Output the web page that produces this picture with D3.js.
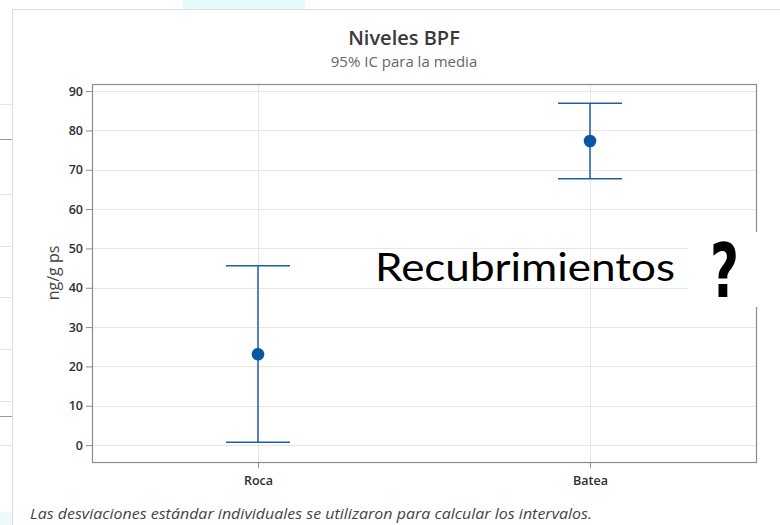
<!DOCTYPE html>
<html>
<head>
<meta charset="utf-8">
<script src="https://cdn.jsdelivr.net/npm/d3@7"></script>
<style>
  body { margin: 0; background: #fff; }
  svg { display: block; }
</style>
</head>
<body>
<div class="chart"></div>
<script>
// interval plot, 95% CI for the mean
const categories = ["Roca", "Batea"];
const means = [23.1, 77.3];
const lower = [0.7, 67.7];
const upper = [45.6, 86.9];
const yTicks = [0, 10, 20, 30, 40, 50, 60, 70, 80, 90];

const W = 780, H = 525;
const plot = { left: 92, right: 756, top: 84, bottom: 462 };

const svg = d3.select(".chart").append("svg")
    .attr("width", W)
    .attr("height", H);

// bits of the slide around the pasted graph
svg.append("rect").attr("x", 183).attr("y", 0).attr("width", 122).attr("height", 9).attr("fill", "#e4fbfb");
svg.append("rect").attr("x", 0).attr("y", 512).attr("width", 12).attr("height", 13).attr("fill", "#eefafa");
[[104, "#e3e3e3"], [139, "#9a9a9a"], [194, "#e3e3e3"], [246, "#e3e3e3"], [297, "#e3e3e3"],
 [349, "#e3e3e3"], [401, "#e3e3e3"], [416, "#9a9a9a"], [445, "#e3e3e3"]].forEach(d => {
    svg.append("line")
        .attr("x1", 0).attr("x2", 12)
        .attr("y1", d[0] + 0.5).attr("y2", d[0] + 0.5)
        .attr("stroke", d[1]);
});
svg.append("line").attr("x1", 12).attr("x2", W).attr("y1", 9.5).attr("y2", 9.5).attr("stroke", "#dcdcdc");
svg.append("line").attr("x1", 12.5).attr("x2", 12.5).attr("y1", 9).attr("y2", H).attr("stroke", "#dcdcdc");

// scales
const x = d3.scalePoint()
    .domain(categories)
    .range([plot.left, plot.right])
    .padding(0.5);
const y = d3.scaleLinear()
    .domain([-4.3, 91.8])
    .range([plot.bottom, plot.top]);

// gridlines
svg.append("g").selectAll("line")
    .data(yTicks)
    .enter().append("line")
    .attr("x1", plot.left).attr("x2", plot.right)
    .attr("y1", d => Math.round(y(d)) + 0.5)
    .attr("y2", d => Math.round(y(d)) + 0.5)
    .attr("stroke", "#e6e6e6");
svg.append("g").selectAll("line")
    .data(categories)
    .enter().append("line")
    .attr("x1", d => Math.round(x(d)) + 0.5)
    .attr("x2", d => Math.round(x(d)) + 0.5)
    .attr("y1", plot.top).attr("y2", plot.bottom)
    .attr("stroke", "#e6e6e6");

// frame
svg.append("rect")
    .attr("x", plot.left + 0.5).attr("y", plot.top + 0.5)
    .attr("width", plot.right - plot.left).attr("height", plot.bottom - plot.top)
    .attr("fill", "none")
    .attr("stroke", "#8c8c8c")
    .attr("stroke-width", 1.2);

// axes
const yAxis = svg.append("g")
    .attr("transform", "translate(" + plot.left + ",0)")
    .call(d3.axisLeft(y).tickValues(yTicks).tickSize(6).tickPadding(3));
const xAxis = svg.append("g")
    .attr("transform", "translate(0," + plot.bottom + ")")
    .call(d3.axisBottom(x).tickSize(6).tickPadding(8));
[yAxis, xAxis].forEach(a => {
    a.select(".domain").remove();
    a.selectAll(".tick line").attr("stroke", "#8c8c8c");
    a.selectAll(".tick text")
        .attr("fill", "#2e2e2e")
        .style("font-family", "'Open Sans', sans-serif")
        .style("font-size", "12.5px")
        .style("font-weight", "600");
});

// intervals
const data = categories.map((c, i) => ({ cat: c, mean: means[i], lo: lower[i], hi: upper[i] }));
const blue = "#1f5ea8";
const capHalf = 32;
const g = svg.append("g");
g.selectAll(".stem")
    .data(data)
    .enter().append("line")
    .attr("class", "stem")
    .attr("x1", d => x(d.cat)).attr("x2", d => x(d.cat))
    .attr("y1", d => y(d.lo)).attr("y2", d => y(d.hi))
    .attr("stroke", blue).attr("stroke-width", 1.5);
["lo", "hi"].forEach(k => {
    g.selectAll(".cap-" + k)
        .data(data)
        .enter().append("line")
        .attr("class", "cap-" + k)
        .attr("x1", d => x(d.cat) - capHalf).attr("x2", d => x(d.cat) + capHalf)
        .attr("y1", d => y(d[k])).attr("y2", d => y(d[k]))
        .attr("stroke", blue).attr("stroke-width", 1.5);
});
g.selectAll(".mean")
    .data(data)
    .enter().append("circle")
    .attr("class", "mean")
    .attr("cx", d => x(d.cat))
    .attr("cy", d => y(d.mean))
    .attr("r", 6.3)
    .attr("fill", "#0a55a6");

// titles
svg.append("text")
    .attr("x", 404).attr("y", 45)
    .style("text-anchor", "middle")
    .style("font-family", "'Open Sans', sans-serif")
    .style("font-size", "20px")
    .style("font-weight", "600")
    .attr("fill", "#3a3a3a")
    .text("Niveles BPF");
svg.append("text")
    .attr("x", 404).attr("y", 67)
    .style("text-anchor", "middle")
    .style("font-family", "'Open Sans', sans-serif")
    .style("font-size", "15px")
    .attr("fill", "#666")
    .text("95% IC para la media");
svg.append("text")
    .attr("transform", "translate(59,273) rotate(-90)")
    .style("text-anchor", "middle")
    .style("font-family", "'Open Sans', sans-serif")
    .style("font-size", "16px")
    .attr("fill", "#444")
    .text("ng/g ps");
svg.append("text")
    .attr("x", 30).attr("y", 519)
    .attr("textLength", 562)
    .attr("lengthAdjust", "spacingAndGlyphs")
    .style("font-family", "'Open Sans', sans-serif")
    .style("font-size", "14px")
    .style("font-style", "italic")
    .attr("fill", "#444")
    .text("Las desviaciones estándar individuales se utilizaron para calcular los intervalos.");

// overlaid slide text
svg.append("text")
    .attr("x", 375).attr("y", 281)
    .attr("textLength", 300)
    .attr("lengthAdjust", "spacingAndGlyphs")
    .style("font-family", "Lato, sans-serif")
    .style("font-size", "38px")
    .attr("fill", "#000")
    .text("Recubrimientos");
svg.append("rect")
    .attr("x", 687).attr("y", 232)
    .attr("width", W - 687).attr("height", 75)
    .attr("fill", "#fff");
svg.append("text")
    .attr("x", 710).attr("y", 297)
    .attr("textLength", 29)
    .attr("lengthAdjust", "spacingAndGlyphs")
    .style("font-family", "'DejaVu Sans', sans-serif")
    .style("font-size", "74px")
    .style("font-weight", "bold")
    .attr("fill", "#000")
    .text("?");
</script>
</body>
</html>
